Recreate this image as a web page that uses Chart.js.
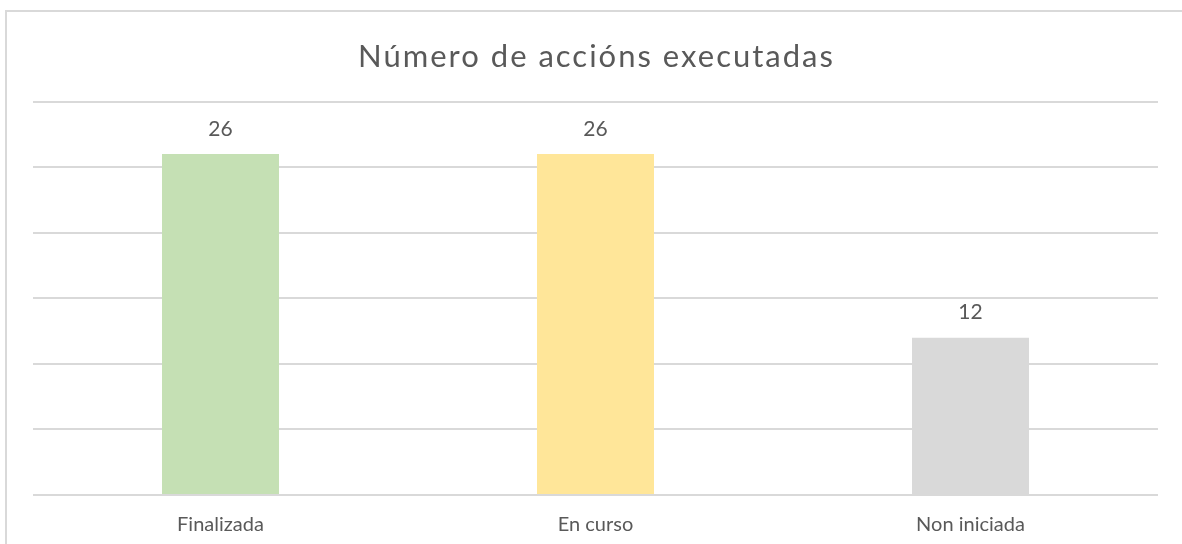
<!DOCTYPE html>
<html>
<head>
<meta charset="utf-8">
<script src="https://cdn.jsdelivr.net/npm/chart.js@4"></script>
<style>
    html, body { margin: 0; padding: 0; background: #fff; overflow: hidden; }
    #wrap { position: relative; width: 1182px; height: 544px; }
    #frame { position: absolute; left: 5px; top: 10px; width: 1300px; height: 700px; border: 2px solid #d9d9d9; box-sizing: border-box; }
    canvas { position: absolute; left: 0; top: 0; }
</style>
</head>
<body>
<div id="wrap">
    <div id="frame"></div>
    <canvas id="barChart" width="1182" height="544"></canvas>
</div>
<script>
const categories = ['Finalizada', 'En curso', 'Non iniciada'];
const actionCounts = [26, 26, 12];
const barColors = ['#c5e0b4', '#ffe699', '#d9d9d9'];
const chartTitle = 'Número de accións executadas';

const fontFamily = 'Lato, "Open Sans", sans-serif';
const textColor = '#595959';

// Value above each bar
const valueLabels = {
    id: 'valueLabels',
    afterDatasetsDraw(chart) {
        const ctx = chart.ctx;
        const meta = chart.getDatasetMeta(0);
        ctx.save();
        ctx.font = '21px ' + fontFamily;
        ctx.fillStyle = textColor;
        ctx.textAlign = 'center';
        ctx.textBaseline = 'middle';
        meta.data.forEach((bar, i) => {
            ctx.fillText(String(chart.data.datasets[0].data[i]), bar.x, bar.y - 25);
        });
        ctx.restore();
    }
};

// Title with wider letter spacing (the built-in title only keeps the space)
const spacedTitle = {
    id: 'spacedTitle',
    afterDraw(chart) {
        const ctx = chart.ctx;
        const area = chart.chartArea;
        ctx.save();
        ctx.font = '31px ' + fontFamily;
        ctx.fillStyle = textColor;
        ctx.letterSpacing = '2px';
        ctx.textAlign = 'center';
        ctx.textBaseline = 'alphabetic';
        ctx.fillText(chartTitle, (area.left + area.right) / 2 + 1, area.top - 35);
        ctx.restore();
    }
};

const ctx = document.getElementById('barChart').getContext('2d');
new Chart(ctx, {
    type: 'bar',
    data: {
        labels: categories,
        datasets: [{
            data: actionCounts,
            backgroundColor: barColors,
            categoryPercentage: 1,
            barPercentage: 0.312
        }]
    },
    options: {
        responsive: false,
        animation: false,
        layout: {
            padding: { left: 33, right: 24, top: 0, bottom: -11 }
        },
        plugins: {
            legend: { display: false },
            tooltip: { enabled: false },
            title: {
                display: true,
                text: chartTitle,
                color: 'rgba(0,0,0,0)',
                font: { family: fontFamily, size: 28, weight: 'normal' },
                padding: { top: 35, bottom: 33 }
            }
        },
        scales: {
            x: {
                grid: { display: false, drawTicks: false },
                border: { display: false },
                ticks: {
                    color: textColor,
                    padding: 18,
                    font: { family: fontFamily, size: 20 }
                }
            },
            y: {
                min: 0,
                max: 30,
                ticks: { display: false, stepSize: 5 },
                border: { display: false },
                grid: { color: '#d9d9d9', lineWidth: 2, drawTicks: false }
            }
        }
    },
    plugins: [valueLabels, spacedTitle]
});
</script>
</body>
</html>
